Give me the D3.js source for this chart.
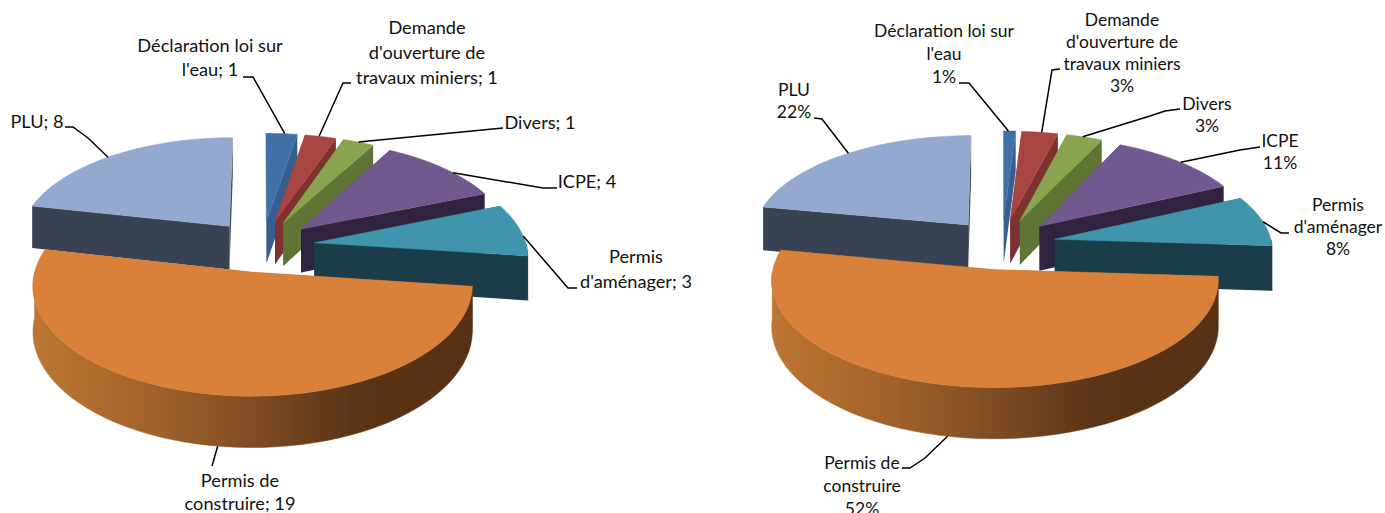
<!DOCTYPE html>
<html>
<head>
<meta charset="utf-8">
<script src="https://cdn.jsdelivr.net/npm/d3@7"></script>
<style>
  html, body { margin: 0; padding: 0; background: #fff; overflow: hidden; }
  text { font-family: Lato, "Open Sans", sans-serif; fill: #111; }
</style>
</head>
<body>
<div id="chart"></div>
<script>
const categories = ["Déclaration loi sur l'eau", "Demande d'ouverture de travaux miniers", "Divers", "ICPE", "Permis d'aménager", "Permis de construire", "PLU"];
const countValues = [1, 1, 1, 4, 3, 19, 8];
const percentValues = [1, 3, 3, 11, 8, 52, 22];

const countLabels = [
    ["Déclaration loi sur", "l'eau; 1"],
    ["Demande", "d'ouverture de", "travaux miniers; 1"],
    ["Divers; 1"],
    ["ICPE; 4"],
    ["Permis", "d'aménager; 3"],
    ["Permis de", "construire; 19"],
    ["PLU; 8"]
];
const percentLabels = [
    ["Déclaration loi sur", "l'eau", "1%"],
    ["Demande", "d'ouverture de", "travaux miniers", "3%"],
    ["Divers", "3%"],
    ["ICPE", "11%"],
    ["Permis", "d'aménager", "8%"],
    ["Permis de", "construire", "52%"],
    ["PLU", "22%"]
];

const topColors = ["#4170a6", "#a84442", "#88a44e", "#71588f", "#4095ad", "#d9813a", "#93a9cf"];
const wallColors = ["#365f8f", "#7e3230", "#5f7535", "#2f2340", "#1b3d4a", "#8a5528", "#394253"];

// label layout: x, y of first line, line step, leader (fraction along the rim, then elbow points)
const leftLayout = {
    cx: 262, cy: 246, R: 212, e: 53, K: 129, p: 0.144, depth: 44, fontSize: 18.2,
    labels: [
        {x: 210, y: 52, step: 24, f: 0.6, pts: [[253, 77], [243, 77]]},
        {x: 427, y: 34, step: 25, f: 0.45, pts: [[343, 83], [351, 83]]},
        {x: 540, y: 129, step: 23, f: 0.5, pts: [[503, 128]]},
        {x: 587, y: 188, step: 23, f: 0.6, pts: [[543, 188], [557, 188]]},
        {x: 636, y: 263, step: 25, f: 0.62, pts: [[568, 288], [577, 288]]},
        {x: 240, y: 487, step: 23, f: 0.49, z: 1, pts: [[212, 466]]},
        {x: 37, y: 128, step: 23, f: 0.48, pts: [[88, 138], [73, 127], [65, 127]]}
    ]
};
const rightLayout = {
    cx: 1002, cy: 244, R: 217, e: 54, K: 126.6, p: 0.12, depth: 45, fontSize: 17.5,
    labels: [
        {x: 944, y: 37, step: 23, f: 0.4, pts: [[969, 83], [959, 83]]},
        {x: 1122, y: 26, step: 22, f: 0.55, pts: [[1052, 70], [1060, 69]]},
        {x: 1207, y: 110, step: 21.5, f: 0.45, pts: [[1150, 116], [1165, 111], [1180, 109]]},
        {x: 1280, y: 147, step: 22, f: 0.52, pts: [[1240, 150], [1260, 147]]},
        {x: 1338, y: 211, step: 22, f: 0.52, pts: [[1281, 233], [1289, 233]]},
        {x: 862, y: 469, step: 23, f: 0.52, z: 1, pts: [[925, 458], [910, 468], [902, 468]]},
        {x: 794, y: 96, step: 22, f: 0.52, pts: [[822, 119], [814, 118]]}
    ]
};

const svg = d3.select('#chart').append('svg')
    .attr('width', 1385)
    .attr('height', 513);

const defs = svg.append('defs');
const lineGen = d3.line();

function drawPie(values, labelLines, geo, id) {
    const pie = d3.pie().sort(null).value(d => d)(values);
    const g = svg.append('g').attr('class', 'pie-' + id);

    const total = geo.R + geo.e;
    // perspective: points nearer the viewer get larger
    const project = (px, py, z) => {
        const s = py / total;
        const w = 1 / (1 - geo.p * s);
        return [geo.cx + px * w, geo.cy + (geo.K * s + z * geo.depth) * w];
    };

    const slices = pie.map((d, i) => {
        const mid = (d.startAngle + d.endAngle) / 2;
        const ox = geo.e * Math.sin(mid);
        const oy = -geo.e * Math.cos(mid);
        const rim = (a, z) => project(ox + geo.R * Math.sin(a), oy - geo.R * Math.cos(a), z);
        const apex = z => project(ox, oy, z);
        return {d, i, rim, apex};
    });

    const gradientId = 'wall-gradient-' + id;
    const gradient = defs.append('linearGradient')
        .attr('id', gradientId)
        .attr('gradientUnits', 'userSpaceOnUse')
        .attr('x1', geo.cx - geo.R * 1.08).attr('y1', 0)
        .attr('x2', geo.cx + geo.R * 1.02).attr('y2', 0);
    [[0, '#bd7632'], [0.25, '#a5642c'], [0.5, '#7d4c23'], [0.72, '#5b3417'], [1, '#573115']].forEach(s => {
        gradient.append('stop').attr('offset', s[0]).attr('stop-color', s[1]);
    });

    // back to front: PLU, then clockwise from the top, largest slice last
    const order = [6, 0, 1, 2, 3, 4, 5];
    order.forEach(i => {
        const s = slices[i];
        const a0 = s.d.startAngle, a1 = s.d.endAngle;
        const angles = d3.range(0, 61).map(t => a0 + (a1 - a0) * t / 60);
        const wall = i === 5 ? `url(#${gradientId})` : wallColors[i];

        // cut faces
        [a1, a0].forEach(a => {
            g.append('path')
                .attr('d', lineGen([s.apex(0), s.rim(a, 0), s.rim(a, 1), s.apex(1)]) + 'Z')
                .attr('fill', wallColors[i]);
        });

        // outer wall, front half only
        const front = angles.filter(a => Math.cos(a) < 0);
        if (front.length > 1) {
            const pts = front.map(a => s.rim(a, 0)).concat(front.slice().reverse().map(a => s.rim(a, 1)));
            g.append('path')
                .attr('d', lineGen(pts) + 'Z')
                .attr('fill', wall)
                .attr('stroke', wall)
                .attr('stroke-width', 0.5);
        }

        // top face
        const top = [s.apex(0)].concat(angles.map(a => s.rim(a, 0)));
        g.append('path')
            .attr('d', lineGen(top) + 'Z')
            .attr('fill', topColors[i])
            .attr('stroke', topColors[i])
            .attr('stroke-width', 0.5);
    });

    // leaders and labels
    geo.labels.forEach((l, i) => {
        const s = slices[i];
        const a = s.d.startAngle + (s.d.endAngle - s.d.startAngle) * l.f;
        const pts = [s.rim(a, l.z || 0)].concat(l.pts);
        g.append('path')
            .attr('d', lineGen(pts))
            .attr('fill', 'none')
            .attr('stroke', '#000')
            .attr('stroke-width', 1.5);

        const text = g.append('text')
            .attr('text-anchor', 'middle')
            .attr('font-size', geo.fontSize)
            .attr('data-category', categories[i]);
        labelLines[i].forEach((line, j) => {
            text.append('tspan')
                .attr('x', l.x)
                .attr('y', l.y + j * l.step)
                .text(line);
        });
    });
}

drawPie(countValues, countLabels, leftLayout, 'count');
drawPie(percentValues, percentLabels, rightLayout, 'percent');
</script>
</body>
</html>
